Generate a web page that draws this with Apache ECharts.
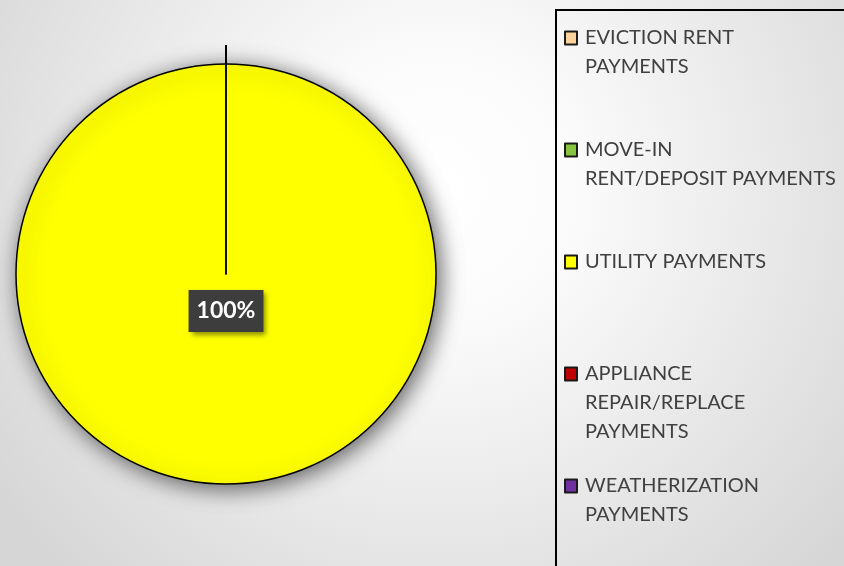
<!DOCTYPE html>
<html>
<head>
<meta charset="utf-8">
<script src="https://cdn.jsdelivr.net/npm/echarts@6/dist/echarts.min.js"></script>
<style>
  html, body { margin: 0; padding: 0; }
  #main { width: 844px; height: 566px; }
</style>
</head>
<body>
<div id="main"></div>
<script>
// categories (legend text, line breaks as in the original legend)
const categories = [
  'EVICTION RENT\nPAYMENTS',
  'MOVE-IN\nRENT/DEPOSIT PAYMENTS',
  'UTILITY PAYMENTS',
  'APPLIANCE\nREPAIR/REPLACE\nPAYMENTS',
  'WEATHERIZATION\nPAYMENTS'
]
// share of payments
const values = [0, 0, 100, 0, 0]
const colors = ['#fbd39a', '#86c440', '#ffff00', '#c00000', '#7030a0']

const LH = 29
const legendFirstLine = [38, 150, 262, 374, 486]

const chart = echarts.init(document.getElementById('main'))

const data = categories.map((name, i) => {
  const item = { name: name, value: values[i] }
  if (values[i] === 0) {
    // zero slices: only a thin line at 12 o'clock, like the original
    item.itemStyle = { color: colors[i], shadowBlur: 0, shadowOffsetX: 0, shadowOffsetY: 0, shadowColor: 'transparent' }
    item.label = {
      show: true, position: 'outside', formatter: ' ',
      backgroundColor: 'transparent', padding: 0, shadowBlur: 0, shadowOffsetX: 0, shadowOffsetY: 0
    }
    item.labelLine = { show: true, length: 19, length2: 0, lineStyle: { color: '#000', width: 2 } }
  } else {
    item.itemStyle = { color: colors[i] }
    item.label = {
      show: true,
      position: 'center',
      offset: [0, 37]
    }
    item.labelLine = { show: false }
  }
  return item
})

chart.setOption({
  backgroundColor: {
    type: 'radial', x: 0.52, y: 0.33, r: 0.95,
    colorStops: [
      { offset: 0, color: '#ffffff' },
      { offset: 0.25, color: '#fbfbfb' },
      { offset: 1, color: '#d6d6d6' }
    ]
  },
  animation: false,
  legend: categories.map((name, i) => {
    const n = name.split('\n').length
    return {
      data: [name],
      orient: 'vertical',
      left: 564,
      top: legendFirstLine[i] - (2 * n - 1) * LH / 2,
      padding: 0,
      icon: 'rect',
      itemWidth: 12,
      itemHeight: 13,
      itemStyle: { borderColor: '#1a1a1a', borderWidth: 2, shadowBlur: 0, shadowColor: 'transparent' },
      selectedMode: false,
      formatter: (nm) => ' \n'.repeat(nm.split('\n').length - 1) + nm,
      textStyle: {
        fontFamily: 'Lato',
        fontSize: 20,
        lineHeight: LH,
        color: '#404040',
        padding: [0, 0, 0, 3]
      }
    }
  }),
  graphic: [{
    type: 'rect',
    shape: { x: 556, y: 10, width: 320, height: 600 },
    style: { fill: 'none', stroke: '#000', lineWidth: 2 },
    silent: true
  }],
  series: [{
    type: 'pie',
    center: [226, 274],
    radius: 210,
    startAngle: 90,
    clockwise: true,
    avoidLabelOverlap: false,
    stillShowZeroSum: true,
    itemStyle: {
      borderColor: '#000',
      borderWidth: 1.5,
      shadowBlur: 22,
      shadowOffsetX: 4,
      shadowOffsetY: 4,
      shadowColor: 'rgba(0,0,0,0.6)'
    },
    label: {
      formatter: '{d}%',
      color: '#fff',
      fontFamily: 'Lato',
      fontWeight: 'bold',
      fontSize: 23,
      backgroundColor: '#3d3d3d',
      padding: [10, 8, 9, 8],
      shadowBlur: 5,
      shadowOffsetX: 3,
      shadowOffsetY: 3,
      shadowColor: 'rgba(0,0,0,0.45)'
    },
    emphasis: { disabled: true },
    data: data
  }]
})
</script>
</body>
</html>
